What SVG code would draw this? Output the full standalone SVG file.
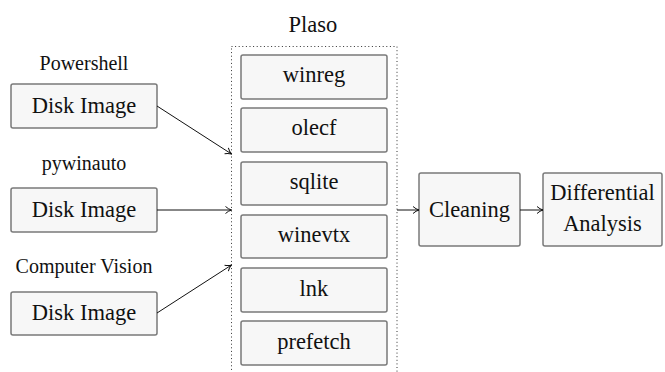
<svg xmlns="http://www.w3.org/2000/svg" width="665" height="372" viewBox="0 0 665 372">
<style>
.box{fill:#f7f7f7;stroke:#7a7a7a;stroke-width:1.5}
.t{font-size:22.5px;fill:#111;text-anchor:middle}
.l{font-size:20px;fill:#111;text-anchor:middle}
.c{stroke:#111;stroke-width:1;fill:none;marker-end:url(#a)}
</style>
<defs>
<marker id="a" viewBox="0 0 10 10" refX="9" refY="5" markerWidth="10" markerHeight="10" markerUnits="userSpaceOnUse" orient="auto">
<path d="M3,1.5 Q6,4.2 9,5 Q6,5.8 3,8.5" fill="none" stroke="#111" stroke-width="1"/>
</marker>
</defs>
<rect width="665" height="372" fill="#fff"/>
<g font-family="Liberation Serif, DejaVu Serif, serif" style="font-family:'Liberation Serif','DejaVu Serif',serif">
<g id="plaso">
<rect x="231.5" y="46.5" width="165.5" height="340" fill="none" stroke="#333" stroke-width="1" stroke-dasharray="1 2.6"/>
<text class="t" x="313" y="32">Plaso</text>
</g>
<g id="src1"><text class="l" x="84" y="70">Powershell</text><rect class="box" x="11" y="84" width="146" height="44" rx="2"/><text class="t" x="84" y="113">Disk Image</text></g>
<g id="src2"><text class="l" x="84" y="170">pywinauto</text><rect class="box" x="11" y="188" width="146" height="44" rx="2"/><text class="t" x="84" y="217">Disk Image</text></g>
<g id="src3"><text class="l" x="84" y="273">Computer Vision</text><rect class="box" x="11" y="292" width="146" height="43" rx="2"/><text class="t" x="84" y="320">Disk Image</text></g>
<g id="winreg"><rect class="box" x="241" y="55" width="146" height="44" rx="2"/><text class="t" x="314" y="82">winreg</text></g>
<g id="olecf"><rect class="box" x="241" y="108" width="146" height="44" rx="2"/><text class="t" x="314" y="135">olecf</text></g>
<g id="sqlite"><rect class="box" x="241" y="162" width="146" height="43" rx="2"/><text class="t" x="314" y="189">sqlite</text></g>
<g id="winevtx"><rect class="box" x="241" y="215" width="146" height="43" rx="2"/><text class="t" x="314" y="242">winevtx</text></g>
<g id="lnk"><rect class="box" x="241" y="268" width="146" height="44" rx="2"/><text class="t" x="314" y="296">lnk</text></g>
<g id="prefetch"><rect class="box" x="241" y="321" width="146" height="44" rx="2"/><text class="t" x="314" y="349">prefetch</text></g>
<g id="cleaning"><rect class="box" x="419" y="173" width="101" height="73" rx="2"/><text class="t" x="469.5" y="217">Cleaning</text></g>
<g id="diff"><rect class="box" x="543" y="173" width="119" height="73" rx="2"/><text class="t" x="602.5" y="200">Differential</text><text class="t" x="602.5" y="231">Analysis</text></g>
</g>
<g id="connectors">
<line class="c" x1="157" y1="106" x2="231.5" y2="154"/>
<line class="c" x1="157" y1="210" x2="231.5" y2="210"/>
<line class="c" x1="157" y1="313" x2="231.5" y2="265"/>
<line class="c" x1="397" y1="210" x2="419" y2="210"/>
<line class="c" x1="520" y1="210" x2="543" y2="210"/>
</g>
</svg>
